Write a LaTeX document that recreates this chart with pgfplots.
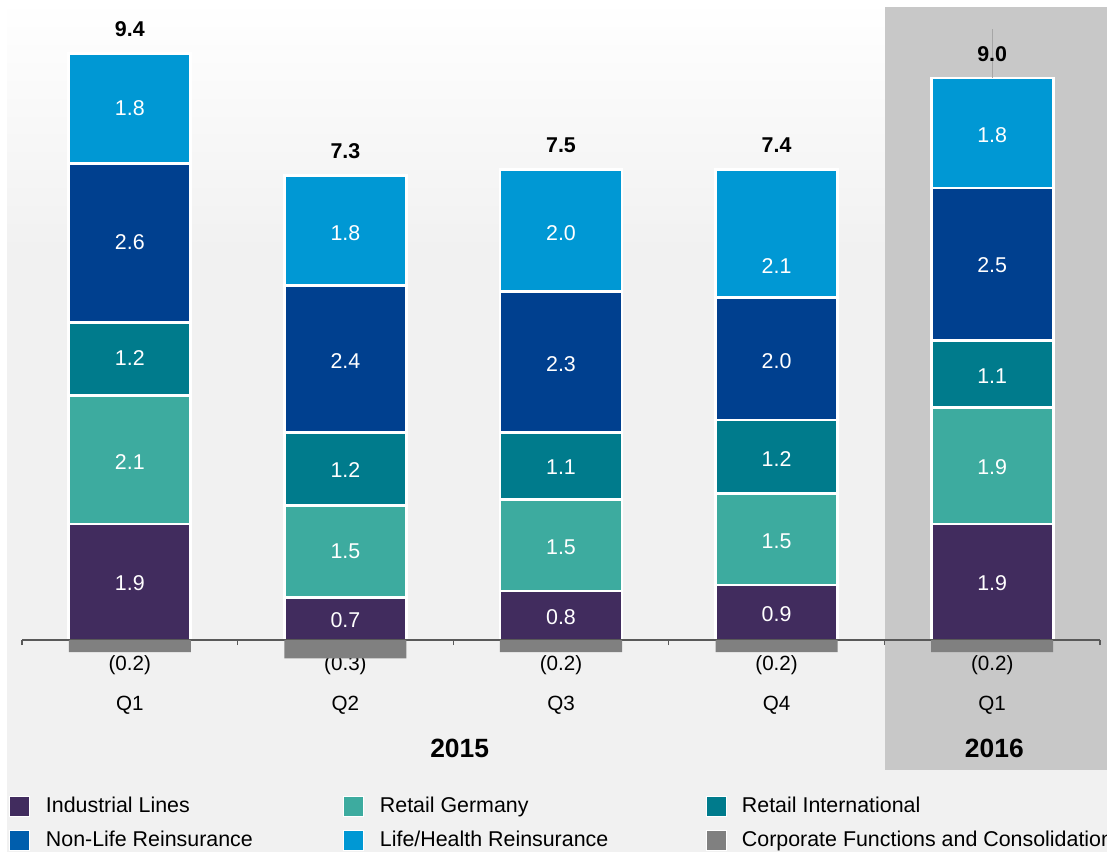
\documentclass[border=0pt]{standalone}
\usepackage{pgfplots}
\pgfplotsset{compat=1.18}
\usepackage{fontspec}
\setmainfont{Liberation Sans}
\definecolor{il}{HTML}{412C5E}
\definecolor{rg}{HTML}{3DAB9F}
\definecolor{ri}{HTML}{007B8C}
\definecolor{nlr}{HTML}{00408F}
\definecolor{nlrleg}{HTML}{005EAD}
\definecolor{lhr}{HTML}{0098D4}
\definecolor{corp}{HTML}{808080}
\definecolor{hl}{HTML}{C8C8C8}
\definecolor{bgb}{HTML}{F1F1F1}
\definecolor{axisc}{HTML}{595959}
\newcommand{\tf}{\fontsize{10.3}{12}\selectfont}
\newcommand{\lf}{\fontsize{10.7}{12}\selectfont}
\begin{document}
\begin{tikzpicture}[x=1pt,y=1pt]
\useasboundingbox (0,0) rectangle (553.5,426);
\fill[white] (0,0) rectangle (553.5,426);
\fill[bgb] (3.5,0) rectangle (553.5,301);
\shade[top color=white, bottom color=bgb] (3.5,301) rectangle (553.5,426);
\fill[hl] (442.5,41) rectangle (553.5,422.5);

\begin{axis}[
  at={(11pt,106pt)}, anchor=south west, scale only axis,
  width=539pt, height=305.5pt,
  xmin=-0.5, xmax=4.5, ymin=0, ymax=10,
  hide axis, clip=false,
  ybar stacked, bar width=0.566,
]
\addplot[fill=il, draw=white, line width=1.35pt] coordinates {(0,1.9) (1,0.7) (2,0.8) (3,0.9) (4,1.9)};
\addplot[fill=rg, draw=white, line width=1.35pt] coordinates {(0,2.1) (1,1.5) (2,1.5) (3,1.5) (4,1.9)};
\addplot[fill=ri, draw=white, line width=1.35pt] coordinates {(0,1.2) (1,1.2) (2,1.1) (3,1.2) (4,1.1)};
\addplot[fill=nlr, draw=white, line width=1.35pt] coordinates {(0,2.6) (1,2.4) (2,2.3) (3,2.0) (4,2.5)};
\addplot[fill=lhr, draw=white, line width=1.35pt] coordinates {(0,1.8) (1,1.8) (2,2.0) (3,2.1) (4,1.8)};
\end{axis}

\begin{axis}[
  at={(11pt,106pt)}, anchor=south west, scale only axis,
  width=539pt, height=305.5pt,
  xmin=-0.5, xmax=4.5, ymin=0, ymax=10, clip=false,
  axis x line=bottom, axis y line=none,
  axis line style={-, draw=axisc, line width=0.7pt},
  xtick={0,...,4}, xticklabels={(0.2),(0.3),(0.2),(0.2),(0.2)},
  major tick length=0pt,
  minor xtick={-0.5,0.5,1.5,2.5,3.5,4.5}, minor tick length=2.5pt,
  tick align=outside, tick style={draw=axisc, line width=0.6pt},
  xticklabel style={anchor=center, yshift=-12.5pt, font=\tf},
  extra x ticks={0,...,4}, extra x tick labels={Q1,Q2,Q3,Q4,Q1},
  extra x tick style={every x tick label/.style={anchor=center, yshift=-32.5pt, font=\tf}},
  legend columns=3, legend cell align=left,
  legend style={at={(axis description cs:-0.0125,-0.2545)}, anchor=north west,
    draw=none, fill=none, inner sep=0pt, column sep=0pt, row sep=6.5pt,
    nodes={inner sep=0pt}, font=\lf},
]
\addlegendimage{legend image code/.code={\draw[fill=il,draw=white,line width=0.5pt] (0pt,-5pt) rectangle (10pt,5pt);}}
\addlegendentry{\makebox[156.5pt][l]{\hspace*{8pt}Industrial Lines}}
\addlegendimage{legend image code/.code={\draw[fill=rg,draw=white,line width=0.5pt] (0pt,-5pt) rectangle (10pt,5pt);}}
\addlegendentry{\makebox[171pt][l]{\hspace*{8pt}Retail Germany}}
\addlegendimage{legend image code/.code={\draw[fill=ri,draw=white,line width=0.5pt] (0pt,-5pt) rectangle (10pt,5pt);}}
\addlegendentry{\hspace*{7.5pt}Retail International}
\addlegendimage{legend image code/.code={\draw[fill=nlrleg,draw=white,line width=0.5pt] (0pt,-5pt) rectangle (10pt,5pt);}}
\addlegendentry{\makebox[156.5pt][l]{\hspace*{8pt}Non-Life Reinsurance}}
\addlegendimage{legend image code/.code={\draw[fill=lhr,draw=white,line width=0.5pt] (0pt,-5pt) rectangle (10pt,5pt);}}
\addlegendentry{\makebox[171pt][l]{\hspace*{8pt}Life/Health Reinsurance}}
\addplot[ybar, bar width=0.566, fill=corp, draw=none,
  legend image code/.code={\draw[fill=corp,draw=white,line width=0.5pt] (0pt,-5pt) rectangle (10pt,5pt);}]
  coordinates {(0,-0.2) (1,-0.3) (2,-0.2) (3,-0.2) (4,-0.2)};
\addlegendentry{\hspace*{7.5pt}Corporate Functions and Consolidation}

% thin grey guide line above the 2016 bar
\addplot[forget plot, draw=gray!70, line width=0.3pt, mark=none] coordinates {(4,9.2) (4,10.0)};

% segment value labels
\addplot[forget plot, draw=none, mark=none, point meta=explicit symbolic,
  nodes near coords={\pgfplotspointmeta},
  nodes near coords style={anchor=center, text=white, font=\lf}]
  coordinates {
  (0,0.93)[1.9] (0,2.91)[2.1] (0,4.62)[1.2] (0,6.51)[2.6] (0,8.71)[1.8]
  (1,0.33)[0.7] (1,1.46)[1.5] (1,2.78)[1.2] (1,4.57)[2.4] (1,6.66)[1.8]
  (2,0.38)[0.8] (2,1.52)[1.5] (2,2.83)[1.1] (2,4.52)[2.3] (2,6.66)[2.0]
  (3,0.43)[0.9] (3,1.62)[1.5] (3,2.96)[1.2] (3,4.57)[2.0] (3,6.12)[2.1]
  (4,0.93)[1.9] (4,2.83)[1.9] (4,4.32)[1.1] (4,6.14)[2.5] (4,8.27)[1.8]
  };
% totals
\addplot[forget plot, draw=none, mark=none, point meta=explicit symbolic,
  nodes near coords={\pgfplotspointmeta},
  nodes near coords style={anchor=center, yshift=12pt, text=black, font=\bfseries\lf}]
  coordinates {(0,9.6)[9.4] (1,7.6)[7.3] (2,7.7)[7.5] (3,7.7)[7.4] (4,9.2)[9.0]};

\node[font=\bfseries\fontsize{13.2}{15}\selectfont, anchor=center] at (axis cs:1.53,0) [yshift=-54pt] {2015};
\node[font=\bfseries\fontsize{13.2}{15}\selectfont, anchor=center] at (axis cs:4.01,0) [yshift=-54pt] {2016};
\end{axis}
\end{tikzpicture}
\end{document}
